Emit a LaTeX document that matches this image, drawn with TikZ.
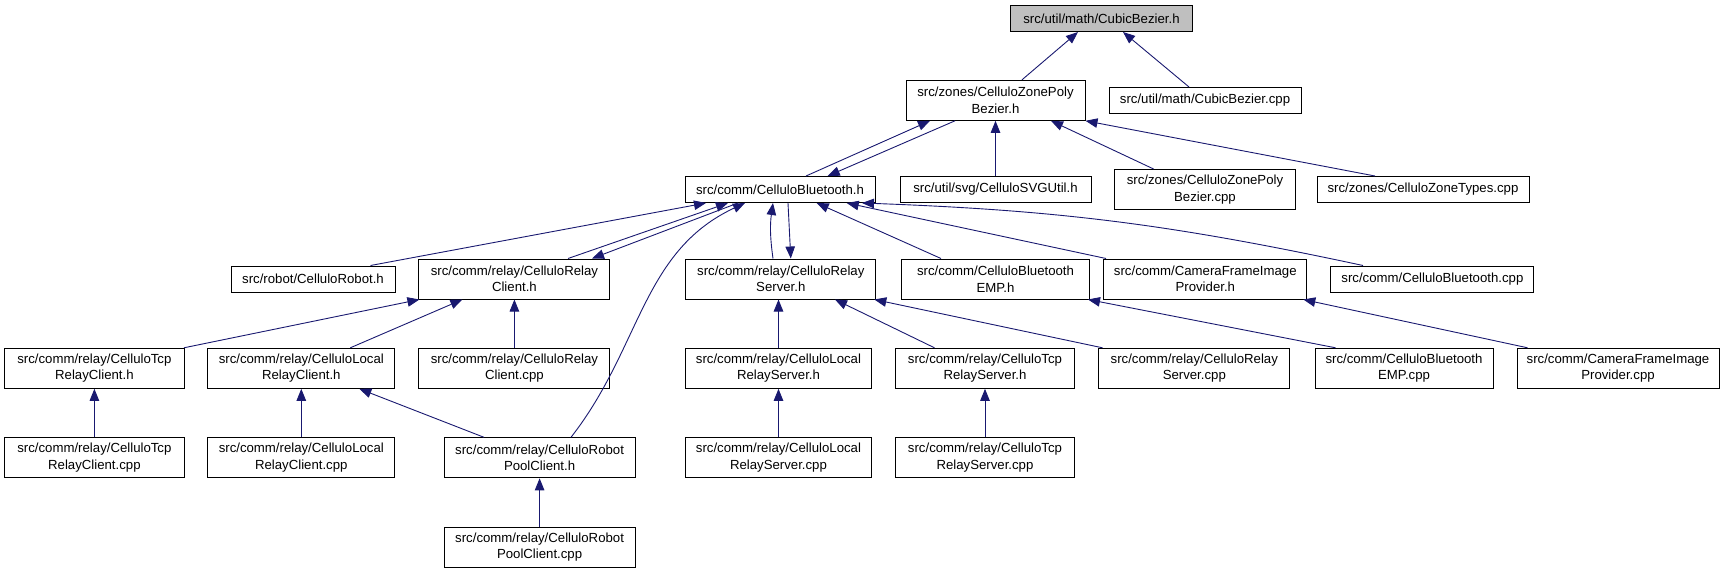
\documentclass[tikz,border=0pt]{standalone}
\usepackage{fontspec}
\setmainfont{Liberation Sans}
\usepackage{xcolor}
\usetikzlibrary{arrows.meta}
\definecolor{edgeblue}{RGB}{25,25,112}
\definecolor{rootgray}{RGB}{191,191,191}

\begin{document}
\begin{tikzpicture}[
    x=1pt, y=-1pt,
    box/.style={draw, rectangle, line width=1pt, fill=white, inner sep=0pt, minimum height=26pt, align=center, font=\fontsize{13.2}{16.5}\selectfont},
    tall/.style={minimum height=40pt},
    dep/.style={draw=edgeblue, line width=0.9pt, -{Triangle[length=12pt,width=9.5pt]}}
]
    \useasboundingbox (0,0) rectangle (1725,573);

    % Headers and sources
    \node[box, minimum width=182pt, fill=rootgray] (bez) at (1101.5,18.5) {src/util/math/CubicBezier.h};

    \node[box, tall, minimum width=179pt] (polyh) at (995.5,100.3) {src/zones/CelluloZonePoly\\Bezier.h};
    \node[box, minimum width=192pt] (bezcpp) at (1205,100.5) {src/util/math/CubicBezier.cpp};

    \node[box, minimum width=190pt] (bt) at (780,189.5) {src/comm/CelluloBluetooth.h};
    \node[box, minimum width=191pt] (svg) at (995.5,189.5) {src/util/svg/CelluloSVGUtil.h};
    \node[box, tall, minimum width=181pt] (polycpp) at (1205,189.5) {src/zones/CelluloZonePoly\\Bezier.cpp};
    \node[box, minimum width=212pt] (types) at (1423,189.5) {src/zones/CelluloZoneTypes.cpp};

    \node[box, minimum width=164pt] (robot) at (313,279) {src/robot/CelluloRobot.h};
    \node[box, tall, minimum width=191pt] (rclient) at (514.4,279) {src/comm/relay/CelluloRelay\\Client.h};
    \node[box, tall, minimum width=190pt] (rserver) at (780.8,279) {src/comm/relay/CelluloRelay\\Server.h};
    \node[box, tall, minimum width=188pt] (emp) at (995.5,279) {src/comm/CelluloBluetooth\\EMP.h};
    \node[box, tall, minimum width=203pt] (cam) at (1205.3,279) {src/comm/CameraFrameImage\\Provider.h};
    \node[box, minimum width=203pt] (btcpp) at (1432.4,279) {src/comm/CelluloBluetooth.cpp};

    \node[box, tall, minimum width=180pt] (tcpc) at (94.4,368.3) {src/comm/relay/CelluloTcp\\RelayClient.h};
    \node[box, tall, minimum width=187pt] (localc) at (301.3,368.3) {src/comm/relay/CelluloLocal\\RelayClient.h};
    \node[box, tall, minimum width=191pt] (rclientcpp) at (514.4,368.3) {src/comm/relay/CelluloRelay\\Client.cpp};
    \node[box, tall, minimum width=186pt] (localserv) at (778.5,368.3) {src/comm/relay/CelluloLocal\\RelayServer.h};
    \node[box, tall, minimum width=179pt] (tcpserv) at (985,368.3) {src/comm/relay/CelluloTcp\\RelayServer.h};
    \node[box, tall, minimum width=191pt] (rservercpp) at (1194.3,368.3) {src/comm/relay/CelluloRelay\\Server.cpp};
    \node[box, tall, minimum width=178pt] (empcpp) at (1404,368.3) {src/comm/CelluloBluetooth\\EMP.cpp};
    \node[box, tall, minimum width=202pt] (camcpp) at (1618,368.3) {src/comm/CameraFrameImage\\Provider.cpp};

    \node[box, tall, minimum width=180pt] (tcpccpp) at (94.4,457.8) {src/comm/relay/CelluloTcp\\RelayClient.cpp};
    \node[box, tall, minimum width=187pt] (localccpp) at (301.3,457.8) {src/comm/relay/CelluloLocal\\RelayClient.cpp};
    \node[box, tall, minimum width=191pt] (pool) at (539.6,457.8) {src/comm/relay/CelluloRobot\\PoolClient.h};
    \node[box, tall, minimum width=186pt] (localservcpp) at (778.5,457.8) {src/comm/relay/CelluloLocal\\RelayServer.cpp};
    \node[box, tall, minimum width=179pt] (tcpservcpp) at (985,457.8) {src/comm/relay/CelluloTcp\\RelayServer.cpp};

    \node[box, tall, minimum width=191pt] (poolcpp) at (539.6,547) {src/comm/relay/CelluloRobot\\PoolClient.cpp};

    % Include edges
    \draw[dep] ([xshift=26.5pt]polyh.north) -- ([xshift=-23.5pt]bez.south);
    \draw[dep] ([xshift=-16pt]bezcpp.north) -- ([xshift=21.5pt]bez.south);

    \draw[dep] ([xshift=26pt]bt.north) -- ([xshift=-65.5pt]polyh.south);
    \draw[dep] ([xshift=-40.5pt]polyh.south) -- ([xshift=47.7pt]bt.north);
    \draw[dep] (svg) -- (polyh);
    \draw[dep] ([xshift=-51.4pt]polycpp.north) -- ([xshift=55.5pt]polyh.south);
    \draw[dep] ([xshift=-48pt]types.north) -- (polyh.south east);

    \draw[dep] ([xshift=57.5pt]robot.north) -- ([xshift=-74pt]bt.south);
    \draw[dep] ([xshift=53.6pt]rclient.north) -- ([xshift=-52pt]bt.south);
    \draw[dep] ([xshift=-42pt]bt.south) -- ([xshift=77.6pt]rclient.north);
    \draw[dep] ([xshift=-7.8pt]rserver.north) to[bend left=8] ([xshift=-7pt]bt.south);
    \draw[dep] ([xshift=8pt]bt.south) -- ([xshift=10pt]rserver.north);
    \draw[dep] ([xshift=-54.5pt]emp.north) -- ([xshift=36.7pt]bt.south);
    \draw[dep] ([xshift=-99.3pt]cam.north) -- ([xshift=66.7pt]bt.south);
    \draw[dep] ([xshift=-69.4pt]btcpp.north) to[bend right=5] ([xshift=82pt]bt.south);
    \draw[dep] ([xshift=31.4pt]pool.north) to[out=52, in=205] ([xshift=-35pt]bt.south);

    \draw[dep] ([xshift=-1pt]tcpc.north east) -- ([xshift=1pt]rclient.south west);
    \draw[dep] ([xshift=49pt]localc.north) -- ([xshift=-52pt]rclient.south);
    \draw[dep] (rclientcpp) -- (rclient);
    \draw[dep] (localserv.north) -- (localserv.north |- rserver.south);
    \draw[dep] ([xshift=-50.5pt]tcpserv.north) -- ([xshift=54.2pt]rserver.south);
    \draw[dep] ([xshift=-91.8pt]rservercpp.north) -- ([xshift=-2pt]rserver.south east);
    \draw[dep] ([xshift=-68.4pt]empcpp.north) -- ([xshift=-2pt]emp.south east);
    \draw[dep] ([xshift=-90.4pt]camcpp.north) -- ([xshift=-4pt]cam.south east);

    \draw[dep] (tcpccpp) -- (tcpc);
    \draw[dep] (localccpp) -- (localc);
    \draw[dep] ([xshift=-55.6pt]pool.north) -- ([xshift=58pt]localc.south);
    \draw[dep] (localservcpp) -- (localserv);
    \draw[dep] (tcpservcpp) -- (tcpserv);
    \draw[dep] (poolcpp) -- (pool);
\end{tikzpicture}
\end{document}
